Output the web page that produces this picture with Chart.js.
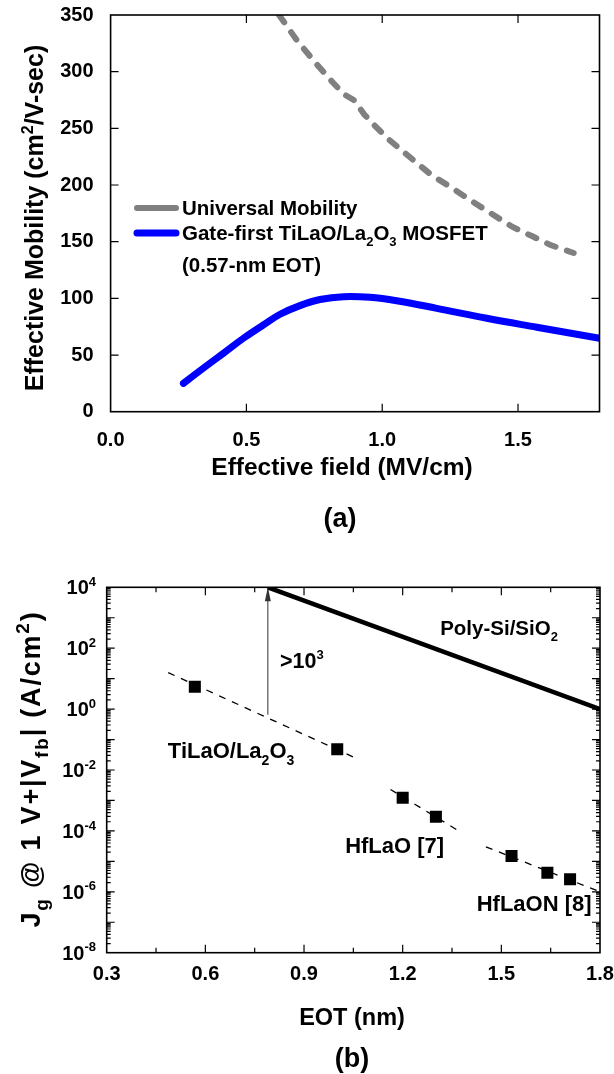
<!DOCTYPE html>
<html>
<head>
<meta charset="utf-8">
<title>Mobility and gate leakage</title>
<script src="https://cdn.jsdelivr.net/npm/chart.js"></script>
<style>
  body { margin: 0; background: #fff; }
  canvas { position: absolute; left: 0; }
  #chartMobility { top: 0; }
  #chartLeakage { top: 540px; }
</style>
</head>
<body>
<canvas id="chartMobility" width="614" height="540"></canvas>
<canvas id="chartLeakage" width="614" height="534"></canvas>
<script>
//--------------------------------------
// (a) effective mobility vs. effective field
//--------------------------------------
const fieldUniversal = [0.62, 0.685, 0.75, 0.82, 0.86, 0.895, 0.935, 0.97, 1.02, 1.1, 1.18, 1.25, 1.335, 1.41, 1.48, 1.555, 1.62, 1.705];
const muUniversal    = [350, 328, 309, 290, 280, 275, 262, 253, 241, 225, 209, 198.5, 185, 173.5, 163, 154.5, 147, 140];
const fieldGateFirst = [0.268, 0.341, 0.415, 0.489, 0.562, 0.624, 0.697, 0.771, 0.857, 0.955, 1.053, 1.201, 1.385, 1.569, 1.8];
const muGateFirst    = [25, 38.3, 51.5, 64.8, 76.5, 86, 93.6, 99, 101.5, 100.9, 97.9, 91.2, 82.4, 74.5, 64.8];
const fieldTicks     = [0, 0.5, 1.0, 1.5];
const muTicks        = [0, 50, 100, 150, 200, 250, 300, 350];

//--------------------------------------
// (b) gate leakage vs. EOT
//--------------------------------------
const eotTiLaO     = [0.568, 1.001];
const jgTiLaO      = [5.4, 0.048];
const eotHfLaO     = [1.2, 1.301];
const jgHfLaO      = [1.23e-3, 2.9e-4];
const eotHfLaON    = [1.531, 1.64, 1.709];
const jgHfLaON     = [1.5e-5, 4.2e-6, 2.6e-6];
const eotFitTiLaO  = [0.487, 1.056];
const jgFitTiLaO   = [15.8, 0.025];
const eotFitHfLaO  = [1.163, 1.364];
const jgFitHfLaO   = [2.3e-3, 1.1e-4];
const eotFitHfLaON = [1.453, 1.8];
const jgFitHfLaON  = [3.0e-5, 1.0e-6];
const eotPolySi    = [0.79, 1.8];
const jgPolySi     = [1e4, 1];
const eotGap       = [0.79, 0.79];
const jgGap        = [0.65, 1e4];
const eotTicks     = [0.3, 0.6, 0.9, 1.2, 1.5, 1.8];
const jgDecades    = [4, 2, 0, -2, -4, -6, -8];

const FONT = "'Liberation Sans', Arial, Helvetica, sans-serif";
const font = (size) => "bold " + size + "px " + FONT;
const points = (xs, ys) => xs.map((x, i) => ({x: x, y: ys[i]}));

/* width of a text built from plain / sub / sup parts */
function richWidth(ctx, parts, size, ratio) {
    let w = 0;
    parts.forEach(([t, kind]) => {
        ctx.font = font(kind === "n" ? size : Math.round(size * ratio));
        w += ctx.measureText(t).width;
    });
    return w;
}

/* draw rich text on baseline y, align = left|center|right */
function drawRich(ctx, parts, x, y, size, align = "left", ratio = 0.62) {
    const w = richWidth(ctx, parts, size, ratio);
    let cx = align === "center" ? x - w / 2 : (align === "right" ? x - w : x);
    ctx.fillStyle = "#000";
    ctx.textBaseline = "alphabetic";
    ctx.textAlign = "left";
    parts.forEach(([t, kind]) => {
        const s  = kind === "n" ? size : Math.round(size * ratio);
        const dy = kind === "sup" ? -size * 0.42 : (kind === "sub" ? size * 0.3 : 0);
        ctx.font = font(s);
        ctx.fillText(t, cx, y + dy);
        cx += ctx.measureText(t).width;
    });
}

/* rotated axis title, reading bottom to top */
function drawRichVertical(ctx, parts, baselineX, centerY, size, spacing = 0, ratio = 0.62) {
    ctx.save();
    ctx.translate(baselineX, centerY);
    ctx.rotate(-Math.PI / 2);
    ctx.letterSpacing = spacing + "px";
    drawRich(ctx, parts, 0, 0, size, "center", ratio);
    ctx.restore();
}

/* frame with inward ticks on all four sides */
function framePlugin(xTicks, yTicks) {
    return {
        id: "frameTicks",
        afterDatasetsDraw(chart) {
            const {ctx, chartArea: a, scales} = chart;
            ctx.save();
            ctx.strokeStyle = "#000";
            ctx.lineWidth = 1.2;
            ctx.beginPath();
            xTicks.forEach(([v, len]) => {
                const px = scales.x.getPixelForValue(v);
                ctx.moveTo(px, a.bottom); ctx.lineTo(px, a.bottom - len);
                ctx.moveTo(px, a.top);    ctx.lineTo(px, a.top + len);
            });
            yTicks.forEach(([v, len]) => {
                const py = scales.y.getPixelForValue(v);
                ctx.moveTo(a.left, py);  ctx.lineTo(a.left + len, py);
                ctx.moveTo(a.right, py); ctx.lineTo(a.right - len, py);
            });
            ctx.stroke();
            ctx.lineWidth = 1.6;
            ctx.strokeRect(a.left, a.top, a.right - a.left, a.bottom - a.top);
            ctx.restore();
        }
    };
}

/* fixed axis box sizes so both plots line up */
function fixWidth(w)  { return (s) => { s.width = w;  s.paddingTop = 0; s.paddingBottom = 0; }; }
function fixHeight(h) { return (s) => { s.height = h; s.paddingLeft = 0; s.paddingRight = 0; }; }

const tickFont = {family: FONT, size: 20, weight: "bold"};

//--------------------------------------
// chart (a)
//--------------------------------------
const mobilityText = {
    id: "mobilityText",
    afterDraw(chart) {
        const ctx = chart.ctx;
        drawRichVertical(ctx, [["Effective Mobility (cm", "n"], ["2", "sup"], ["/V-sec)", "n"]], 43, 218, 25);
        drawRich(ctx, [["Effective field (MV/cm)", "n"]], 342, 475, 24.5, "center");
        drawRich(ctx, [["(a)", "n"]], 340, 527, 27, "center");

        // legend
        const ds = chart.data.datasets;
        ctx.save();
        ctx.lineCap = "round";
        ctx.strokeStyle = ds[0].borderColor; ctx.lineWidth = 6;
        ctx.beginPath(); ctx.moveTo(137, 208); ctx.lineTo(176, 208); ctx.stroke();
        ctx.strokeStyle = ds[1].borderColor; ctx.lineWidth = 7;
        ctx.beginPath(); ctx.moveTo(137, 233); ctx.lineTo(176, 233); ctx.stroke();
        ctx.restore();
        drawRich(ctx, [[ds[0].label, "n"]], 182, 215, 20.5);
        drawRich(ctx, [["Gate-first TiLaO/La", "n"], ["2", "sub"], ["O", "n"], ["3", "sub"], [" MOSFET", "n"]], 182, 240, 20.5);
        drawRich(ctx, [["(0.57-nm EOT)", "n"]], 182, 272, 20.5);
    }
};

new Chart(document.getElementById("chartMobility"), {
    type: "line",
    data: {
        datasets: [{
            label: "Universal Mobility",
            data: points(fieldUniversal, muUniversal),
            borderColor: "#808080",
            borderWidth: 6,
            borderDash: [9, 12],
            borderCapStyle: "round",
            pointRadius: 0,
            tension: 0
        }, {
            label: "Gate-first TiLaO/La2O3 MOSFET",
            data: points(fieldGateFirst, muGateFirst),
            borderColor: "#0000ff",
            borderWidth: 7,
            borderCapStyle: "round",
            tension: 0.4,
            pointRadius: 0
        }]
    },
    options: {
        responsive: false,
        animation: false,
        layout: {padding: {top: 15, right: 14.5, left: 0, bottom: 0}},
        plugins: {legend: {display: false}, tooltip: {enabled: false}},
        scales: {
            x: {
                type: "linear", min: 0, max: 1.8,
                grid: {display: false}, border: {display: false},
                afterBuildTicks: (s) => { s.ticks = fieldTicks.map(v => ({value: v})); },
                afterFit: fixHeight(128.3),
                ticks: {color: "#000", font: tickFont, padding: 9, maxRotation: 0,
                        callback: (v) => Number(v).toFixed(1)}
            },
            y: {
                type: "linear", min: 0, max: 350,
                grid: {display: false}, border: {display: false},
                afterBuildTicks: (s) => { s.ticks = muTicks.map(v => ({value: v})); },
                afterFit: fixWidth(110.6),
                ticks: {color: "#000", font: tickFont, padding: 9}
            }
        }
    },
    plugins: [
        framePlugin([[0.5, 8], [1.0, 8], [1.5, 8]],
                    muTicks.slice(1, -1).map(v => [v, 8])),
        mobilityText
    ]
});

//--------------------------------------
// chart (b)
//--------------------------------------
const minorDecadeTicks = [];
for (let d = -8; d < 4; d++) {
    for (let m = 2; m <= 9; m++) { minorDecadeTicks.push([m * Math.pow(10, d), 4]); }
    if (d > -8) { minorDecadeTicks.push([Math.pow(10, d), 8]); }
}

const leakageText = {
    id: "leakageText",
    afterDraw(chart) {
        const ctx = chart.ctx;
        const x = chart.scales.x, y = chart.scales.y;
        const at = (e, j) => [x.getPixelForValue(e), y.getPixelForValue(j)];

        // decade labels on the log axis
        jgDecades.forEach((d) => {
            const py = y.getPixelForValue(Math.pow(10, d));
            drawRich(ctx, [["10", "n"], [String(d), "sup"]], 96, py + 7, 20, "right", 0.66);
        });

        drawRichVertical(ctx, [["J", "n"], ["g", "sub"], [" @ 1 V+|V", "n"], ["fb", "sub"],
                               ["| (A/cm", "n"], ["2", "sup"], [")", "n"]], 40, 229, 27, 1.8, 0.7);
        drawRich(ctx, [["EOT (nm)", "n"]], 352, 485, 23.5, "center");
        drawRich(ctx, [["(b)", "n"]], 352, 527, 27, "center");

        // arrow head on the gap marker
        const head = chart.getDatasetMeta(7).data[1];
        ctx.save();
        ctx.fillStyle = "#333";
        ctx.beginPath();
        ctx.moveTo(head.x, head.y);
        ctx.lineTo(head.x - 3, head.y + 14);
        ctx.lineTo(head.x + 3, head.y + 14);
        ctx.closePath();
        ctx.fill();
        ctx.restore();

        let p;
        p = at(1.314, Math.pow(10, 2.43));
        drawRich(ctx, [["Poly-Si/SiO", "n"], ["2", "sub"]], p[0], p[1], 20.5);
        p = at(0.827, Math.pow(10, 1.35));
        drawRich(ctx, [[">10", "n"], ["3", "sup"]], p[0], p[1], 21.5);
        p = at(0.486, Math.pow(10, -1.61));
        drawRich(ctx, [["TiLaO/La", "n"], ["2", "sub"], ["O", "n"], ["3", "sub"]], p[0], p[1], 22);
        p = at(1.025, Math.pow(10, -4.73));
        drawRich(ctx, [["HfLaO [7]", "n"]], p[0], p[1], 22);
        p = at(1.425, Math.pow(10, -6.63));
        drawRich(ctx, [["HfLaON [8]", "n"]], p[0], p[1], 22);
    }
};

const fitStyle = {borderColor: "#000", borderWidth: 1.3, borderDash: [7, 7], pointRadius: 0, tension: 0};
const squareStyle = {showLine: false, pointStyle: "rect", pointRadius: 8.5,
                     backgroundColor: "#000", borderColor: "#000", borderWidth: 0};

new Chart(document.getElementById("chartLeakage"), {
    type: "line",
    data: {
        datasets: [
            Object.assign({label: "TiLaO/La2O3 fit", data: points(eotFitTiLaO, jgFitTiLaO)}, fitStyle),
            Object.assign({label: "HfLaO fit", data: points(eotFitHfLaO, jgFitHfLaO)}, fitStyle),
            Object.assign({label: "HfLaON fit", data: points(eotFitHfLaON, jgFitHfLaON)}, fitStyle),
            Object.assign({label: "TiLaO/La2O3", data: points(eotTiLaO, jgTiLaO)}, squareStyle),
            Object.assign({label: "HfLaO [7]", data: points(eotHfLaO, jgHfLaO)}, squareStyle),
            Object.assign({label: "HfLaON [8]", data: points(eotHfLaON, jgHfLaON)}, squareStyle),
            {label: "Poly-Si/SiO2", data: points(eotPolySi, jgPolySi),
             borderColor: "#000", borderWidth: 4.5, pointRadius: 0, tension: 0},
            {label: ">10^3", data: points(eotGap, jgGap),
             borderColor: "#333", borderWidth: 1, pointRadius: 0, tension: 0}
        ]
    },
    options: {
        responsive: false,
        animation: false,
        layout: {padding: {top: 47.3, right: 14, left: 0, bottom: 0}},
        plugins: {legend: {display: false}, tooltip: {enabled: false}},
        scales: {
            x: {
                type: "linear", min: 0.3, max: 1.8,
                grid: {display: false}, border: {display: false},
                afterBuildTicks: (s) => { s.ticks = eotTicks.map(v => ({value: v})); },
                afterFit: fixHeight(121.3),
                ticks: {color: "#000", font: tickFont, padding: 2, maxRotation: 0,
                        callback: (v) => Number(v).toFixed(1)}
            },
            y: {
                type: "logarithmic", min: 1e-8, max: 1e4,
                grid: {display: false}, border: {display: false},
                afterFit: fixWidth(106.7),
                ticks: {display: false}
            }
        }
    },
    plugins: [
        framePlugin([[0.45, 5], [0.6, 8], [0.75, 5], [0.9, 8], [1.05, 5], [1.2, 8],
                     [1.35, 5], [1.5, 8], [1.65, 5]],
                    minorDecadeTicks),
        leakageText
    ]
});
</script>
</body>
</html>
